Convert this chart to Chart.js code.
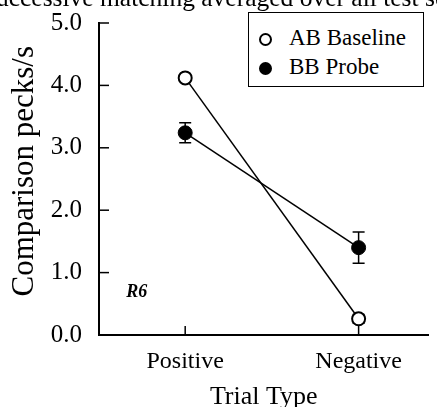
<!DOCTYPE html>
<html>
<head>
<meta charset="utf-8">
<script src="https://cdn.jsdelivr.net/npm/chart.js@4.4.1/dist/chart.umd.min.js"></script>
<style>
  html, body { margin: 0; padding: 0; background: #fff; }
  #wrap { position: relative; width: 437px; height: 407px; overflow: hidden; }
  #caption {
    position: absolute; left: -14px; top: -17px; white-space: nowrap;
    font-family: "Liberation Serif", serif; font-size: 25.5px; color: #000;
  }
  #legend {
    position: absolute; left: 248px; top: 12px; width: 174px; height: 73px;
    border: 1.5px solid #000; background: #fff;
  }
  .row { position: absolute; left: 0; height: 26px; line-height: 26px; }
  .mk { position: absolute; left: 10px; top: 8px; width: 9px; height: 9px; border-radius: 50%; border: 2px solid #000; }
  .lbl {
    position: absolute; left: 40px; top: 0; white-space: nowrap;
    font-family: "Liberation Serif", serif; font-size: 23px; color: #000;
  }
</style>
</head>
<body>
<div id="wrap">
  <canvas id="chart" width="437" height="407"></canvas>
  <div id="caption">successive matching averaged over all test sessions</div>
  <div id="legend"></div>
</div>
<script>
// categories and values
const categories = ["Positive", "Negative"];
const seriesNames = ["AB Baseline", "BB Probe"];
const abBaseline = [4.12, 0.26];
const abBaselineErr = [0.03, 0.07];
const bbProbe = [3.24, 1.40];
const bbProbeErr = [0.16, 0.25];
const yTicks = [0, 1, 2, 3, 4, 5];

const font = "'Liberation Serif', serif";

function toPoints(vals) {
    return vals.map((v, i) => ({ x: i + 1, y: v }));
}

// error bars, drawn under the markers
const errorBars = {
    id: "errorBars",
    beforeDatasetsDraw(chart) {
        const ctx = chart.ctx;
        const xs = chart.scales.x, ys = chart.scales.y;
        const errs = [abBaselineErr, bbProbeErr];
        ctx.save();
        ctx.strokeStyle = "#000";
        ctx.lineWidth = 1.5;
        chart.data.datasets.forEach((ds, d) => {
            ds.data.forEach((p, i) => {
                const e = errs[d][i];
                const px = xs.getPixelForValue(p.x);
                const top = ys.getPixelForValue(p.y + e);
                const bot = ys.getPixelForValue(p.y - e);
                ctx.beginPath();
                ctx.moveTo(px, top); ctx.lineTo(px, bot);
                ctx.moveTo(px - 6, top); ctx.lineTo(px + 6, top);
                ctx.moveTo(px - 6, bot); ctx.lineTo(px + 6, bot);
                ctx.stroke();
            });
        });
        ctx.restore();
    }
};

// inward tick marks on both axes
const innerTicks = {
    id: "innerTicks",
    afterDraw(chart) {
        const ctx = chart.ctx;
        const xs = chart.scales.x, ys = chart.scales.y;
        const area = chart.chartArea;
        ctx.save();
        ctx.strokeStyle = "#000";
        ctx.lineWidth = 1.5;
        ys.ticks.forEach(t => {
            const py = ys.getPixelForValue(t.value);
            const len = t.value % 1 === 0 ? 10 : 6;
            ctx.beginPath();
            ctx.moveTo(area.left, py); ctx.lineTo(area.left + len, py);
            ctx.stroke();
        });
        xs.ticks.forEach(t => {
            const px = xs.getPixelForValue(t.value);
            ctx.beginPath();
            ctx.moveTo(px, area.bottom); ctx.lineTo(px, area.bottom - 9);
            ctx.stroke();
        });
        // R6 panel tag
        ctx.fillStyle = "#000";
        ctx.font = "italic bold 18px " + font;
        ctx.textBaseline = "middle";
        ctx.fillText("R6", xs.getPixelForValue(0.66), ys.getPixelForValue(0.68));
        ctx.restore();
    }
};

new Chart(document.getElementById("chart"), {
    type: "line",
    data: {
        datasets: [
            {
                label: seriesNames[0],
                data: toPoints(abBaseline),
                borderColor: "#000",
                borderWidth: 1.5,
                pointRadius: 6.5,
                pointBackgroundColor: "#fff",
                pointBorderColor: "#000",
                pointBorderWidth: 2
            },
            {
                label: seriesNames[1],
                data: toPoints(bbProbe),
                borderColor: "#000",
                borderWidth: 1.5,
                pointRadius: 7,
                pointBackgroundColor: "#000",
                pointBorderColor: "#000",
                pointBorderWidth: 1
            }
        ]
    },
    options: {
        responsive: false,
        animation: false,
        layout: { padding: { top: 23, right: -9, left: 5, bottom: 0 } },
        plugins: {
            legend: { display: false },
            tooltip: { enabled: false }
        },
        scales: {
            x: {
                type: "linear",
                min: 0.503,
                max: 2.403,
                afterBuildTicks: s => { s.ticks = categories.map((c, i) => ({ value: i + 1 })); },
                afterFit: s => { s.height = 72; s.paddingLeft = 0; s.paddingRight = 0; },
                grid: { display: false, drawTicks: false },
                border: { display: true, color: "#000", width: 2 },
                ticks: {
                    color: "#000",
                    padding: 12,
                    maxRotation: 0,
                    font: { family: font, size: 24 },
                    callback: v => categories[v - 1]
                },
                title: {
                    display: true,
                    text: "Trial Type",
                    color: "#000",
                    padding: { top: 0, bottom: -6 },
                    font: { family: font, size: 26 }
                }
            },
            y: {
                min: 0,
                max: 5,
                afterBuildTicks: s => {
                    const t = [];
                    for (let v = yTicks[0]; v <= yTicks[yTicks.length - 1] + 1e-9; v += 0.5) t.push({ value: v });
                    s.ticks = t;
                },
                afterFit: s => { s.width = 94; s.paddingTop = 0; s.paddingBottom = 0; },
                grid: { display: false, drawTicks: false },
                border: { display: true, color: "#000", width: 2 },
                ticks: {
                    color: "#000",
                    padding: 17,
                    font: { family: font, size: 25 },
                    callback: v => (yTicks.includes(v) ? v.toFixed(1) : "")
                },
                title: {
                    display: true,
                    text: "\u00A0\u00A0Comparison pecks/s",
                    color: "#000",
                    padding: { top: 1, bottom: 0 },
                    font: { family: font, size: 31 }
                }
            }
        }
    },
    plugins: [errorBars, innerTicks]
});

// legend box
const legend = document.getElementById("legend");
seriesNames.forEach((name, i) => {
    const row = document.createElement("div");
    row.className = "row";
    row.style.top = (12 + i * 29) + "px";
    const mk = document.createElement("div");
    mk.className = "mk";
    mk.style.background = i === 0 ? "#fff" : "#000";
    const lbl = document.createElement("div");
    lbl.className = "lbl";
    lbl.textContent = name;
    row.appendChild(mk);
    row.appendChild(lbl);
    legend.appendChild(row);
});
</script>
</body>
</html>
